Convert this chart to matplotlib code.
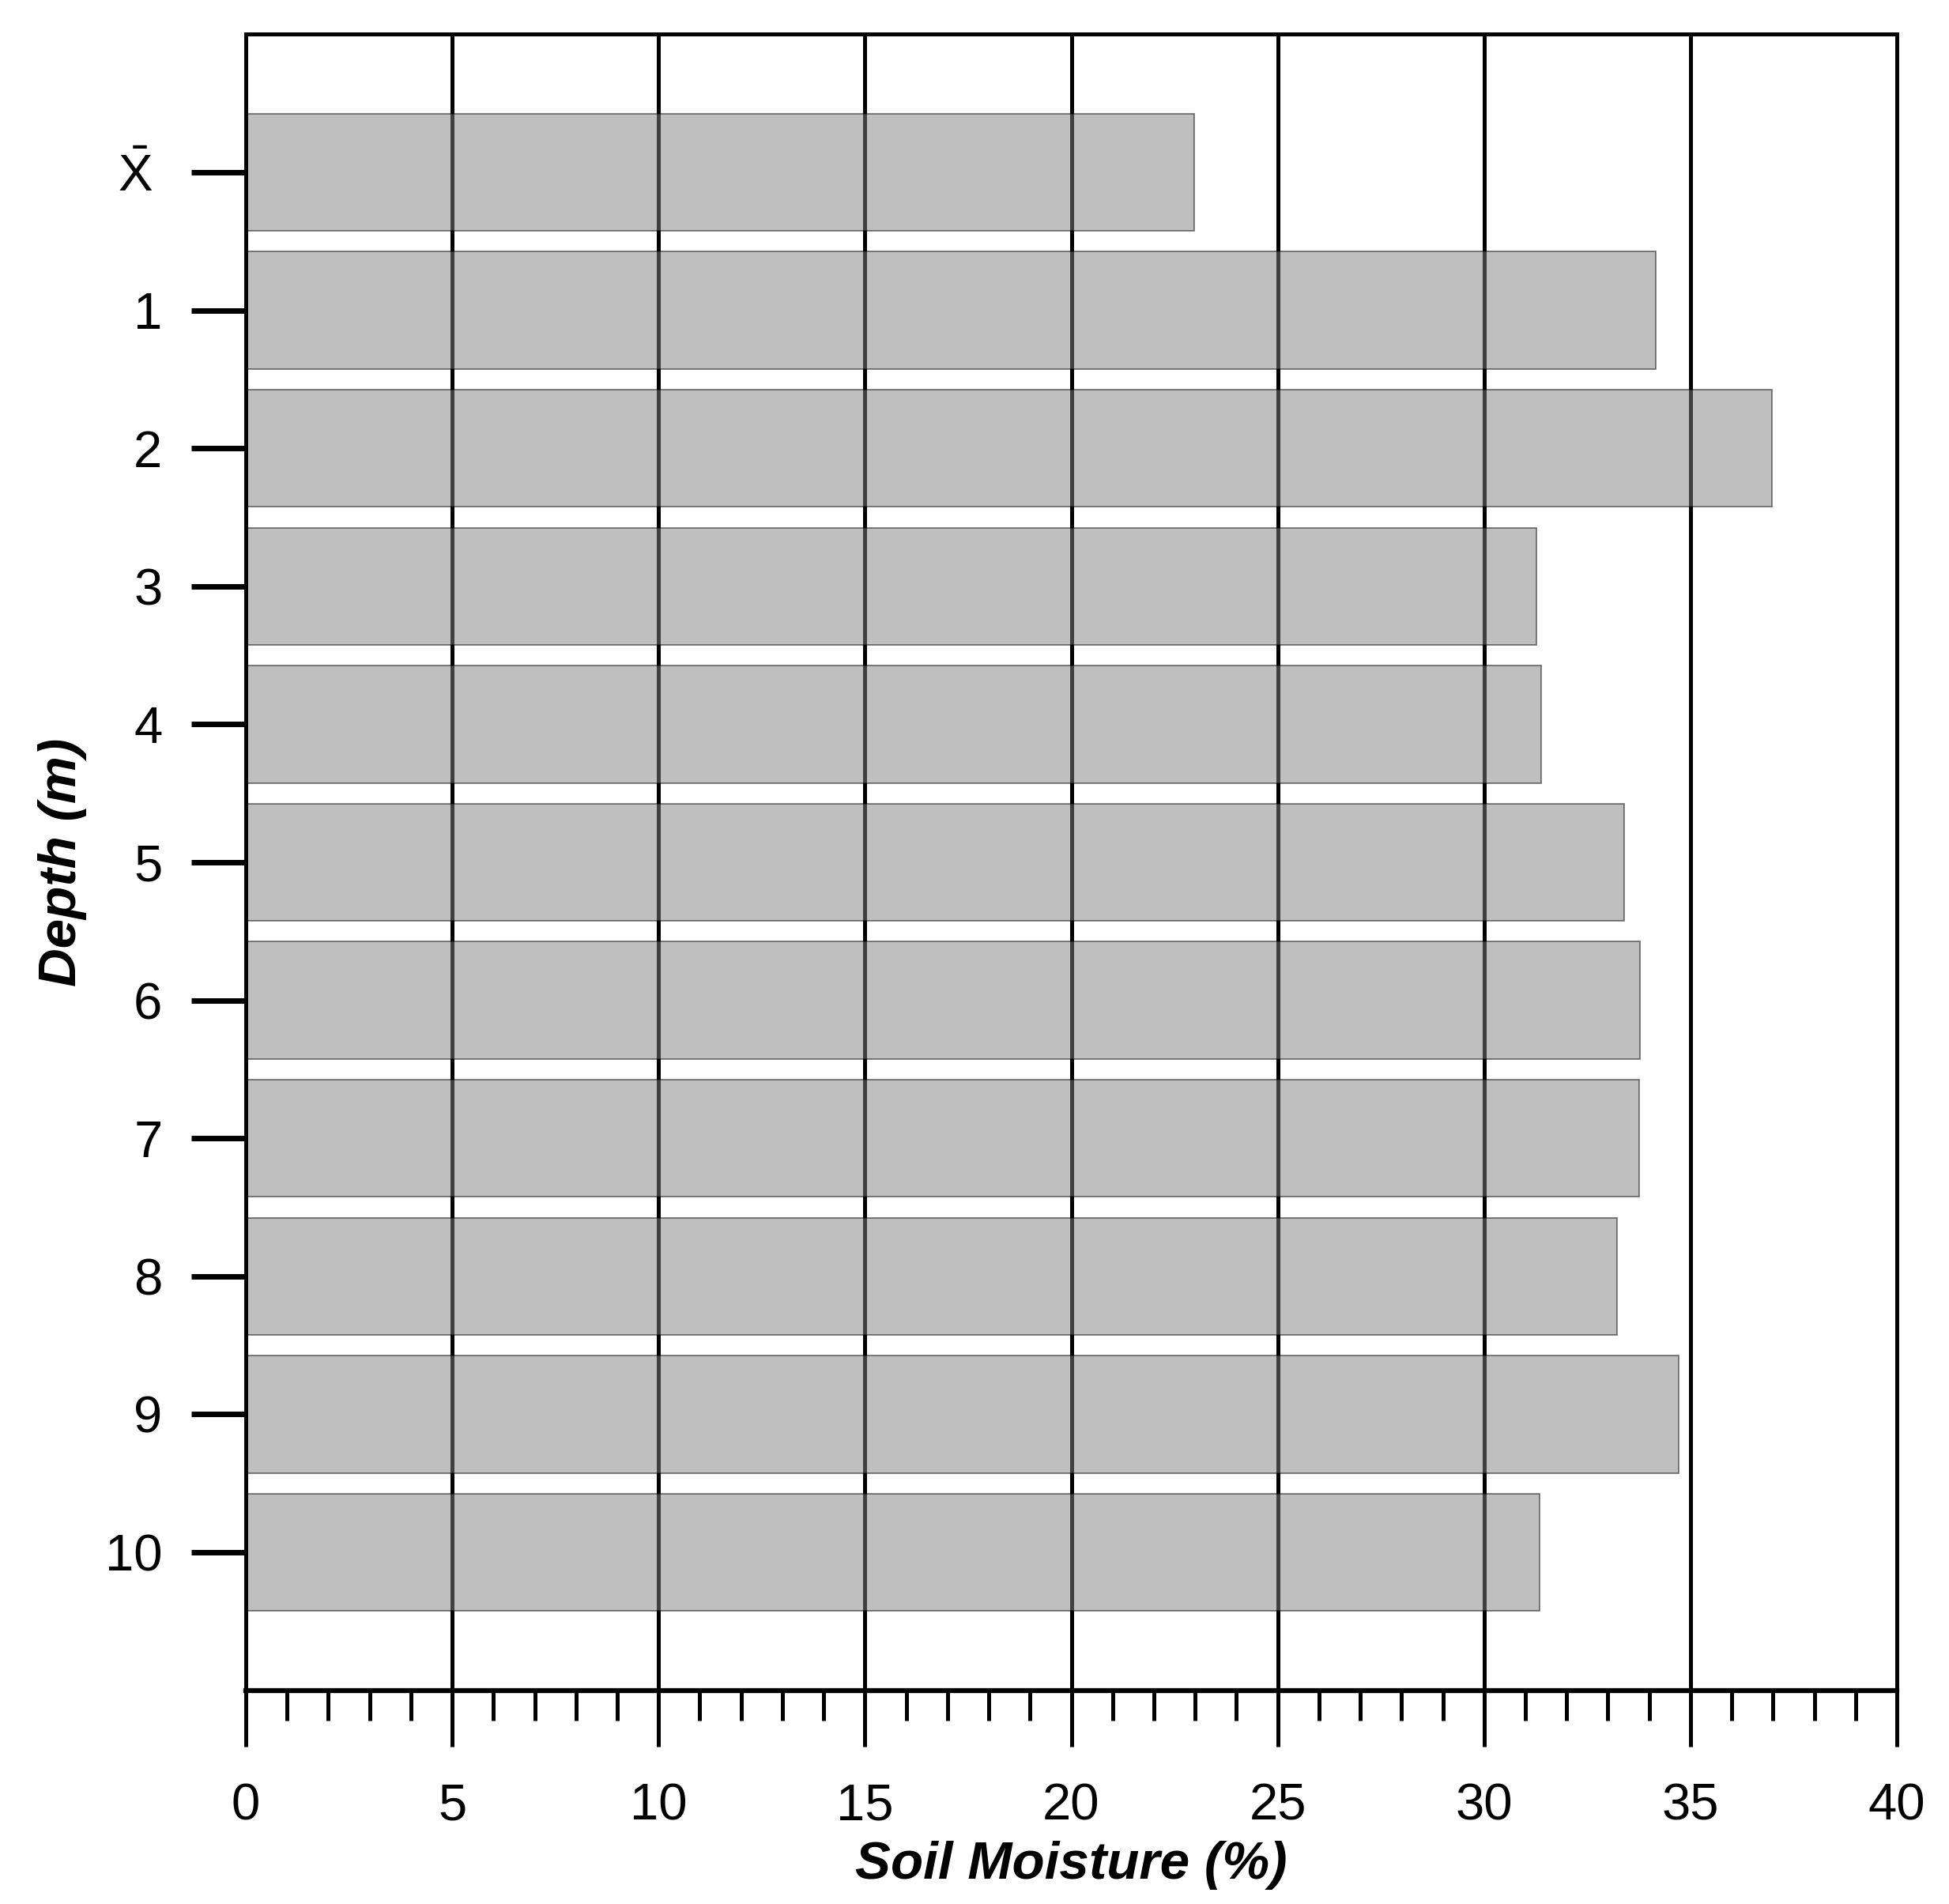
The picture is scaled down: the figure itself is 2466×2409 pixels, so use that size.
import matplotlib
matplotlib.use('Agg')
import matplotlib.pyplot as plt
from matplotlib.ticker import MultipleLocator, FixedLocator

# ---- data ----
depth_labels = [r'$\mathrm{\bar{X}}$', '1', '2', '3', '4', '5', '6', '7', '8', '9', '10']
soil_moisture = [22.97, 34.16, 36.97, 31.26, 31.38, 33.39, 33.77, 33.75, 33.23, 34.72, 31.35]
x_tick_values = [0, 5, 10, 15, 20, 25, 30, 35, 40]

plt.rcParams['font.family'] = ['Liberation Sans', 'DejaVu Sans']
plt.rcParams['mathtext.fontset'] = 'custom'
plt.rcParams['mathtext.rm'] = 'Liberation Sans'
plt.rcParams['mathtext.it'] = 'Liberation Sans:italic'
plt.rcParams['mathtext.bf'] = 'Liberation Sans:bold'

W, H = 2466, 2409
fig = plt.figure(figsize=(W / 100, H / 100), dpi=100)
left, right, top, bottom = 311, 2400, 43.4, 2138.6
ax = fig.add_axes([left / W, 1 - bottom / H, (right - left) / W, (bottom - top) / H])

positions = list(range(len(depth_labels)))
ax.barh(positions, soil_moisture, height=0.85, color='#808080', alpha=0.5,
        edgecolor='black', linewidth=1.3)

ax.set_xlim(0, 40)
ax.set_ylim(11, -1)

ax.set_axisbelow(True)
ax.xaxis.grid(True, which='major', color='black', linewidth=3.6)
ax.yaxis.grid(False)

ax.xaxis.set_major_locator(FixedLocator(x_tick_values))
ax.set_xticklabels([str(v) for v in x_tick_values])
ax.xaxis.set_minor_locator(MultipleLocator(1))
ax.set_yticks(positions)
ax.set_yticklabels(depth_labels)

ax.tick_params(axis='x', which='major', direction='out', length=51, width=3.6,
               labelsize=47, pad=33, color='black')
ax.tick_params(axis='x', which='minor', direction='out', length=27, width=3.6, color='black')
ax.tick_params(axis='y', which='major', direction='out', length=50, width=5,
               labelsize=47, pad=26, color='black')

# the mean label sits slightly further left in the reference
ax.get_yticklabels()[0].set_x(-0.006)

for s in ['left', 'top', 'right']:
    ax.spines[s].set_linewidth(3.6)
ax.spines['bottom'].set_linewidth(4.5)

ax.set_xlabel('Soil Moisture (%)', fontsize=48.5, fontweight='bold', fontstyle='italic', va='center')
ax.xaxis.set_label_coords(0.5, (bottom - 2360) / (bottom - top))
ax.set_ylabel('Depth (m)', fontsize=48.5, fontweight='bold', fontstyle='italic', va='center')
ax.yaxis.set_label_coords((79 - left) / (right - left), 0.5)

fig.savefig('out.png', dpi=100, facecolor='white')
